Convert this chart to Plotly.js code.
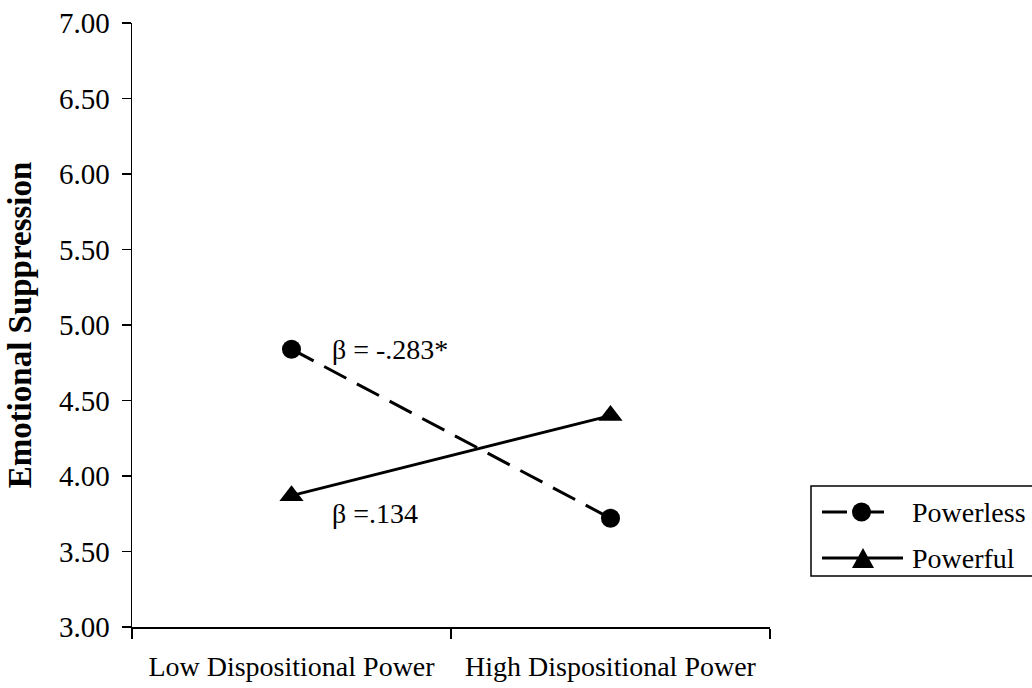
<!DOCTYPE html>
<html>
<head>
<meta charset="utf-8">
<script src="https://cdn.plot.ly/plotly-3.0.1.min.js"></script>
<style>html,body{margin:0;padding:0;background:#fff;}#chart{width:1032px;height:688px;}</style>
</head>
<body>
<div id="chart"></div>
<script>
const categories = ['Low Dispositional Power', 'High Dispositional Power'];
const powerless = [4.84, 3.72];
const powerful = [3.87, 4.40];
const seriesNames = ['Powerless', 'Powerful'];
const yTickVals = [3.0, 3.5, 4.0, 4.5, 5.0, 5.5, 6.0, 6.5, 7.0];
const betaLabels = ['\u03b2 = -.283*', '\u03b2 =.134'];
const betaY = [4.84, 3.75];

const FONT = 'Liberation Serif, Times New Roman, serif';
const DASH = '25px,12px';

const traces = [
  {
    x: categories, y: powerless, name: seriesNames[0], type: 'scatter', mode: 'lines+markers',
    line: {color: '#000', width: 3, dash: DASH},
    marker: {symbol: 'circle', size: 19, color: '#000'}
  },
  {
    x: categories, y: powerful, name: seriesNames[1], type: 'scatter', mode: 'lines+markers',
    line: {color: '#000', width: 3},
    marker: {symbol: 'triangle-up', size: 21, color: '#000'}
  }
];

// Legend drawn as a boxed key anchored at one paper point, with pixel offsets
const LEG_X = (811 - 132) / 638;
const LEG_Y = (627 - 486) / 604;
function legShape(o) {
  return Object.assign({xref: 'paper', yref: 'paper', xsizemode: 'pixel', ysizemode: 'pixel',
    xanchor: LEG_X, yanchor: LEG_Y}, o);
}
const shapes = [
  legShape({type: 'rect', x0: 0, x1: 260, y0: 0, y1: -90, line: {color: '#000', width: 1.5}, fillcolor: 'rgba(0,0,0,0)'}),
  legShape({type: 'line', x0: 11, x1: 80, y0: -26, y1: -26, line: {color: '#000', width: 3, dash: DASH}}),
  legShape({type: 'circle', x0: 41, x1: 60, y0: -16.5, y1: -35.5, line: {color: '#000', width: 0}, fillcolor: '#000'}),
  legShape({type: 'line', x0: 11, x1: 92, y0: -72, y1: -72, line: {color: '#000', width: 3}}),
  legShape({type: 'path', path: 'M 41 -82 L 63 -82 L 52 -62 Z', line: {color: '#000', width: 0}, fillcolor: '#000'})
];

const legendText = seriesNames.map((n, i) => ({
  xref: 'paper', yref: 'paper', x: LEG_X, y: LEG_Y, text: n, showarrow: false,
  xanchor: 'left', yanchor: 'middle', xshift: 99, yshift: i === 0 ? -26 : -72,
  font: {family: FONT, size: 28, color: '#000'}
}));

const layout = {
  width: 1032, height: 688,
  margin: {l: 132, r: 262, t: 23, b: 61},
  paper_bgcolor: '#fff', plot_bgcolor: '#fff',
  font: {family: FONT, color: '#000', size: 28},
  showlegend: false,
  xaxis: {
    type: 'category', range: [-0.5, 1.5], tickson: 'boundaries',
    ticks: 'outside', ticklen: 10, tickwidth: 1.5, tickcolor: '#000',
    showline: true, linecolor: '#000', linewidth: 1.5,
    showgrid: false, zeroline: false,
    ticklabelstandoff: 14,
    tickfont: {family: FONT, size: 28, color: '#000'}
  },
  yaxis: {
    range: [3, 7], tickvals: yTickVals, tickformat: '.2f',
    ticks: 'outside', ticklen: 9, tickwidth: 1.5, tickcolor: '#000',
    showline: true, linecolor: '#000', linewidth: 1.5,
    showgrid: false, zeroline: false,
    tickfont: {family: FONT, size: 29, color: '#000'},
    ticklabelstandoff: 6,
    title: {text: '<b>Emotional Suppression</b>', font: {family: FONT, size: 33, color: '#000'}, standoff: 17}
  },
  shapes: shapes,
  annotations: [
    {x: 0, y: betaY[0], xref: 'x', yref: 'y', text: betaLabels[0], showarrow: false,
     xanchor: 'left', yanchor: 'middle', xshift: 38, font: {family: FONT, size: 28, color: '#000'}},
    {x: 0, y: betaY[1], xref: 'x', yref: 'y', text: betaLabels[1], showarrow: false,
     xanchor: 'left', yanchor: 'middle', xshift: 38, font: {family: FONT, size: 28, color: '#000'}}
  ].concat(legendText)
};

Plotly.newPlot('chart', traces, layout, {displayModeBar: false, staticPlot: true});
</script>
</body>
</html>
